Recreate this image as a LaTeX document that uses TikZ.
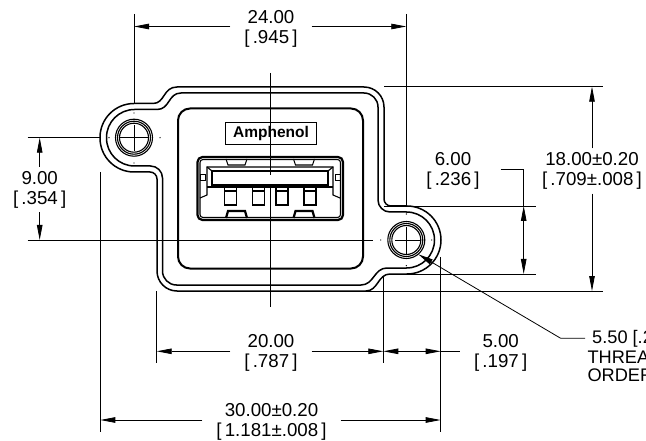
\documentclass[tikz,border=0pt]{standalone}
\usepackage{fontspec}
\setmainfont{Liberation Sans}
\usepackage{xcolor}
\usetikzlibrary{positioning}
\usetikzlibrary{calc}
\usetikzlibrary{arrows.meta}
\tikzstyle{dimline} = [line width=0.8pt]
\tikzstyle{dimarrow} = [line width=0.8pt,-{Stealth[length=15pt,width=5.5pt,inset=0pt]}]
\tikzstyle{dimtxt} = [align=center,font=\fontsize{18.7}{20}\selectfont,inner xsep=14pt,inner ysep=4pt]
\tikzstyle{calltxt} = [anchor=west,inner sep=0pt,font=\fontsize{18.2}{18}\selectfont]
\tikzstyle{plate} = [line width=1.5pt,line join=round]
\tikzstyle{recess} = [line width=2pt,rounded corners=12pt]
\tikzstyle{part} = [line width=1.1pt]
\tikzstyle{partthick} = [line width=2.2pt]
\begin{document}
\begin{tikzpicture}[x=1pt,y=-1pt]
\path[use as bounding box,clip] (0,0) rectangle (646,441);
\fill[white] (0,0) rectangle (646,441);
% plate
\draw[plate] (140,103.5) -- (153,103.5) .. controls (165,103.5) and (163,87) .. (177,87) [rounded corners=20pt] -- (384,87) [rounded corners=7pt] -- (384,206) [rounded corners=34pt] -- (441,206) -- (441,274) [sharp corners] -- (390,274) .. controls (378,274) and (378,291) .. (366,291) [rounded corners=20pt] -- (157,291) [rounded corners=7pt] -- (157,172) [rounded corners=34pt] -- (100,172) -- (100,103.5) -- (140,103.5);
\draw[plate] (140,109.5) -- (157,109.5) .. controls (170,109.5) and (168,93) .. (181,93) [rounded corners=14pt] -- (378,93) [rounded corners=12pt] -- (378,212) [rounded corners=28pt] -- (434.5,212) -- (434.5,268) [sharp corners] -- (387,268) .. controls (374,268) and (374,285) .. (361,285) [rounded corners=14pt] -- (162.5,285) [rounded corners=12pt] -- (162.5,166) [rounded corners=28pt] -- (106.5,166) -- (106.5,109.5) -- (140,109.5);
\draw[recess] (178,108.5) rectangle (363,268.5);
% label plate
\node[draw,line width=0.9pt,minimum width=91.5pt,minimum height=22.5pt,inner sep=0pt,font=\fontsize{15.5}{16}\selectfont\bfseries] (logo) at (271,133.7) {Amphenol};
% usb opening
\draw[partthick,rounded corners=5pt] (197.5,157) rectangle (343,220);
\draw[part,rounded corners=3pt] (200,159.5) rectangle (340.5,217.5);
\draw[part] (200,198) -- (207,195) -- (207,167) -- (333,167) -- (333,195) -- (340,198);
\draw[part] (212,171) rectangle (328,185);
\draw[part] (207,167) -- (212,171);
\draw[part] (333,167) -- (328,171);
\draw[part] (207,187) -- (333,187);
\draw[part,line width=0.6pt] (200,174.5) rectangle (205,180);
\draw[part,line width=0.6pt] (335,174.5) rectangle (340,180);
\draw[part] (224.5,187) rectangle (236.5,205);
\draw[part] (252.5,187) rectangle (264.5,205);
\draw[part] (276,187) rectangle (288,205);
\draw[part] (304,187) rectangle (316,205);
\draw[part] (224.5,191) -- (236.5,191);
\draw[part] (252.5,191) -- (264.5,191);
\draw[part] (276,191) -- (288,191);
\draw[part] (304,191) -- (316,191);
\draw[part] (226,159) -- (228,165) -- (245,165) -- (247,159);
\draw[part] (293.5,159) -- (295.5,165) -- (312.5,165) -- (314.5,159);
\draw[partthick] (226,218) -- (228,211) -- (245,211) -- (247,218);
\draw[partthick] (293.5,218) -- (295.5,211) -- (312.5,211) -- (314.5,218);
% holes
\coordinate (holeL) at (134,137.7);
\coordinate (holeR) at (406.3,240);
\draw[part] (holeL) circle[radius=18.5];
\draw[part] (holeL) circle[radius=16.5];
\draw[part] (holeL) circle[radius=14.5];
\draw[part] (holeR) circle[radius=18.5];
\draw[part] (holeR) circle[radius=16.5];
\draw[part] (holeR) circle[radius=14.5];
\draw[dimline] (120,137.7) -- (149,137.7);
\draw[dimline] (134,125) -- (134,151);
\draw[dimline] (395,240) -- (420,240);
\draw[dimline] (406.3,227) -- (406.3,254);
% center marks
\fill (134,113) circle(0.7);
\fill (134,163) circle(0.7);
\fill (109,137.7) circle(0.7);
\fill (160,137.7) circle(0.7);
\fill (406.3,214) circle(0.7);
\fill (406.3,265.7) circle(0.7);
\fill (380.7,240) circle(0.7);
\fill (431.7,240) circle(0.7);
\draw[dimline] (270.7,73) -- (270.7,175);
\draw[dimline] (270.7,187) -- (270.7,307);
% extension lines
\draw[dimline] (134,14) -- (134,103.5);
\draw[dimline] (406.3,14) -- (406.3,206);
\draw[dimline] (27.7,137.7) -- (100,137.7);
\draw[dimline] (27.7,240) -- (372.7,240);
\draw[dimline] (100.3,172) -- (100.3,431.7);
\draw[dimline] (156.7,291) -- (156.7,363);
\draw[dimline] (383.3,276) -- (383.3,363);
\draw[dimline] (440.7,257) -- (440.7,431.7);
\draw[dimline] (384,86.7) -- (603.3,86.7);
\draw[dimline] (366,291) -- (603.3,291);
\draw[dimline] (384,206) -- (536,206);
\draw[dimline] (390,274) -- (536,274);
% dimensions
\coordinate (dimAl) at (134,26.5);
\coordinate (dimAr) at (406.3,26.5);
\node[dimtxt] (txtA) at (271,28.5) {24.00\\{[}\,.945\,{]}};
\draw[dimarrow] (txtA.west |- dimAl) -- (dimAl);
\draw[dimarrow] (txtA.east |- dimAr) -- (dimAr);
\coordinate (dimBt) at (39.7,137.7);
\coordinate (dimBb) at (39.7,240);
\node[dimtxt] (txtB) at (39.7,189.5) {9.00\\{[}\,.354\,{]}};
\draw[dimarrow] (txtB.north -| dimBt) -- (dimBt);
\draw[dimarrow] (txtB.south -| dimBb) -- (dimBb);
\coordinate (dimCl) at (156.7,351.3);
\coordinate (dimCr) at (383.3,351.3);
\node[dimtxt] (txtC) at (271,353) {20.00\\{[}\,.787\,{]}};
\draw[dimarrow] (txtC.west |- dimCl) -- (dimCl);
\draw[dimarrow] (txtC.east |- dimCr) -- (dimCr);
\coordinate (dimDl) at (383.3,351.3);
\coordinate (dimDm) at (412,351.3);
\coordinate (dimDr) at (440.7,351.3);
\node[dimtxt] (txtD) at (500.7,353) {5.00\\{[}\,.197\,{]}};
\draw[dimarrow] (dimDm) -- (dimDl);
\draw[dimarrow] (dimDm) -- (dimDr);
\draw[dimline] (dimDr) -- (txtD.west |- dimDr);
\coordinate (dimEl) at (100.3,420);
\coordinate (dimEr) at (440.7,420);
\node[dimtxt] (txtE) at (271.5,422) {30.00±0.20\\{[}\,1.181±.008\,{]}};
\draw[dimarrow] (txtE.west |- dimEl) -- (dimEl);
\draw[dimarrow] (txtE.east |- dimEr) -- (dimEr);
\coordinate (dimFt) at (592,86.7);
\coordinate (dimFb) at (592,291);
\node[dimtxt] (txtF) at (592,171) {18.00±0.20\\{[}\,.709±.008\,{]}};
\draw[dimarrow] (txtF.north -| dimFt) -- (dimFt);
\draw[dimarrow] (txtF.south -| dimFb) -- (dimFb);
\coordinate (dimGt) at (523.7,206);
\coordinate (dimGm) at (523.7,240);
\coordinate (dimGb) at (523.7,274);
\coordinate (dimGc) at (523.7,169);
\node[dimtxt,inner xsep=21pt] (txtG) at (453,171) {6.00\\{[}\,.236\,{]}};
\draw[dimline] (txtG.east |- dimGc) -- (dimGc) -- (dimGt);
\draw[dimarrow] (dimGm) -- (dimGt);
\draw[dimarrow] (dimGm) -- (dimGb);
% callout
\coordinate (leadtip) at (418.3,254.3);
\coordinate (leadbend) at (560.7,338.3);
\node[calltxt] (callA) at (592,339) {5.50 [.2};
\node[calltxt] (callB) at (587.3,357.5) {THREA};
\node[calltxt] (callC) at (587.3,375) {ORDER};
\draw[dimarrow] (585,338.3) -- (leadbend) -- (leadtip);
\end{tikzpicture}
\end{document}
